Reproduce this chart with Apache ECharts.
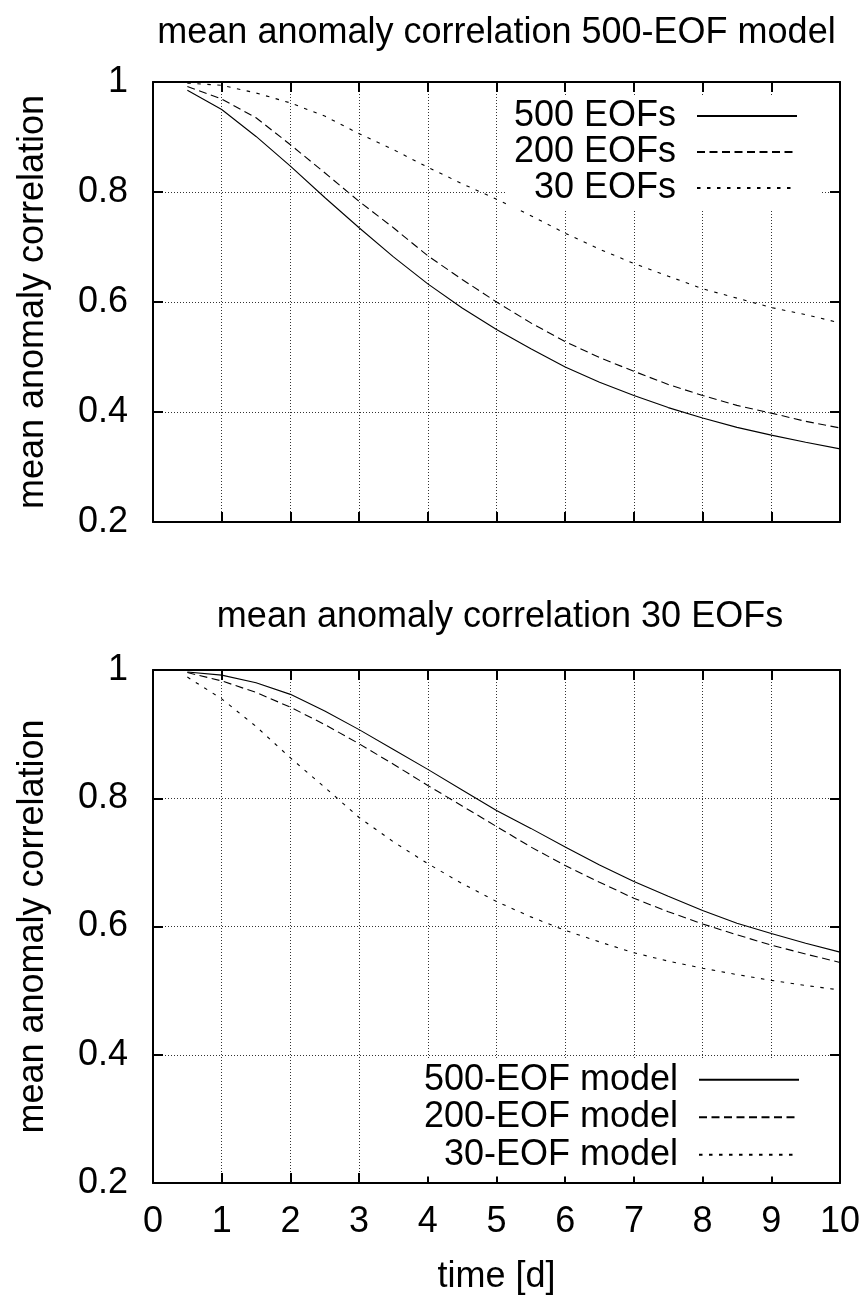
<!DOCTYPE html>
<html>
<head>
<meta charset="utf-8">
<script src="https://cdn.jsdelivr.net/npm/echarts@6/dist/echarts.min.js"></script>
<style>
html,body{margin:0;padding:0;background:#fff;}
#chart{width:865px;height:1297px;}
</style>
</head>
<body>
<div id="chart"></div>
<script>
// ---- data ----
const times = [0.5,1,1.5,2,2.5,3,3.5,4,4.5,5,5.5,6,6.5,7,7.5,8,8.5,9,9.5,10];

const topTitle = 'mean anomaly correlation 500-EOF model';
const bottomTitle = 'mean anomaly correlation 30 EOFs';
const yName = 'mean anomaly correlation';
const xName = 'time [d]';

const topNames = ['500 EOFs', '200 EOFs', '30 EOFs'];
const top500 = [0.985,0.950,0.901,0.847,0.790,0.735,0.682,0.633,0.589,0.550,0.515,0.482,0.454,0.430,0.408,0.389,0.372,0.358,0.345,0.333];
const top200 = [0.992,0.969,0.935,0.886,0.835,0.783,0.735,0.684,0.641,0.600,0.562,0.528,0.499,0.474,0.450,0.430,0.412,0.398,0.383,0.371];
const top30  = [0.998,0.994,0.980,0.962,0.938,0.906,0.877,0.845,0.815,0.787,0.757,0.725,0.696,0.670,0.647,0.624,0.607,0.590,0.577,0.562];

const bottomNames = ['500-EOF model', '200-EOF model', '30-EOF model'];
const bot500 = [0.997,0.992,0.980,0.962,0.936,0.907,0.876,0.845,0.813,0.781,0.753,0.724,0.696,0.670,0.647,0.625,0.605,0.589,0.574,0.560];
const bot200 = [0.996,0.983,0.965,0.942,0.915,0.885,0.853,0.820,0.788,0.756,0.724,0.695,0.669,0.644,0.623,0.604,0.587,0.571,0.557,0.544];
const bot30  = [0.989,0.955,0.912,0.863,0.817,0.770,0.732,0.698,0.667,0.639,0.615,0.594,0.576,0.559,0.546,0.535,0.525,0.516,0.508,0.501];

const xTicks = [0,1,2,3,4,5,6,7,8,9,10];
const yTicks = [0.2,0.4,0.6,0.8,1];

// ---- styling ----
const FONT = 'Liberation Sans, Arial, Helvetica, sans-serif';
const FS = 36;
const dashStyles = ['solid', [8, 4.5], [3.5, 6.5]];

function pairs(vals){ return times.map((t,i)=>[t, vals[i]]); }

function xAxisDef(gridIndex, position, showLabels, showSplit){
  return {
    type:'value', gridIndex, position,
    min: xTicks[0], max: xTicks[xTicks.length-1], interval: 1,
    axisLine:{show:true, onZero:false, lineStyle:{color:'#000', width:2}},
    axisTick:{show:true, inside:true, length:10, lineStyle:{color:'#000', width:2}},
    axisLabel:{show:showLabels, color:'#000', fontSize:FS, fontFamily:FONT, margin:21},
    splitLine:{show:showSplit, lineStyle:{color:'#333', width:1, type:[1,2]}},
    name: showLabels ? xName : '',
    nameLocation:'middle', nameGap:76,
    nameTextStyle:{color:'#000', fontSize:FS, fontFamily:FONT}
  };
}
function yAxisDef(gridIndex, position, showLabels, showSplit){
  return {
    type:'value', gridIndex, position,
    min: yTicks[0], max: yTicks[yTicks.length-1], interval: 0.2,
    axisLine:{show:true, onZero:false, lineStyle:{color:'#000', width:2}},
    axisTick:{show:true, inside:true, length:10, lineStyle:{color:'#000', width:2}},
    axisLabel:{show:showLabels, color:'#000', fontSize:FS, fontFamily:FONT, margin:25},
    splitLine:{show:showSplit, lineStyle:{color:'#333', width:1, type:[1,2]}},
    name: showLabels ? yName : '',
    nameLocation:'middle', nameGap:102,
    nameTextStyle:{color:'#000', fontSize:FS, fontFamily:FONT}
  };
}

function lineSeries(name, vals, k, xi, yi){
  return {
    type:'line', name, data: pairs(vals),
    xAxisIndex: xi, yAxisIndex: yi,
    showSymbol:false, symbol:'none',
    smooth:false,
    lineStyle:{color:'#000', width:1.1, type: dashStyles[k]},
    itemStyle:{color:'#000'},
    animation:false, z:3
  };
}

function legendDef(names, right, top, lh){
  return {
    data: names, orient:'vertical', align:'right',
    right, top, itemWidth:100, itemHeight:14, itemGap:0,
    padding:[3, 22, 3, 8],
    backgroundColor:'#fff',
    selectedMode:false,
    itemStyle:{opacity:0, borderWidth:0},
    textStyle:{color:'#000', fontSize:FS, fontFamily:FONT, lineHeight:lh, padding:[0,16,0,0]},
    z: 4
  };
}

const chart = echarts.init(document.getElementById('chart'), null, {renderer:'canvas'});
chart.setOption({
  animation:false,
  backgroundColor:'#fff',
  grid:[
    {left:153, top:82, width:687, height:440},
    {left:153, top:670, width:687, height:513}
  ],
  xAxis:[
    xAxisDef(0,'bottom',false,true),
    xAxisDef(0,'top',false,false),
    xAxisDef(1,'bottom',true,true),
    xAxisDef(1,'top',false,false)
  ],
  yAxis:[
    yAxisDef(0,'left',true,true),
    yAxisDef(0,'right',false,false),
    yAxisDef(1,'left',true,true),
    yAxisDef(1,'right',false,false)
  ],
  legend:[
    legendDef(topNames, 45, 95, 36),
    legendDef(bottomNames, 43, 1058, 37.5)
  ],
  graphic:[
    {type:'text', x:496.5, y:33, z:10,
     style:{text:topTitle, fill:'#000', font:FS+'px '+FONT, textAlign:'center', textVerticalAlign:'middle'}},
    {type:'text', x:500, y:617, z:10,
     style:{text:bottomTitle, fill:'#000', font:FS+'px '+FONT, textAlign:'center', textVerticalAlign:'middle'}}
  ],
  series:[
    lineSeries(topNames[0], top500, 0, 0, 0),
    lineSeries(topNames[1], top200, 1, 0, 0),
    lineSeries(topNames[2], top30, 2, 0, 0),
    lineSeries(bottomNames[0], bot500, 0, 2, 2),
    lineSeries(bottomNames[1], bot200, 1, 2, 2),
    lineSeries(bottomNames[2], bot30, 2, 2, 2)
  ]
});
</script>
</body>
</html>
